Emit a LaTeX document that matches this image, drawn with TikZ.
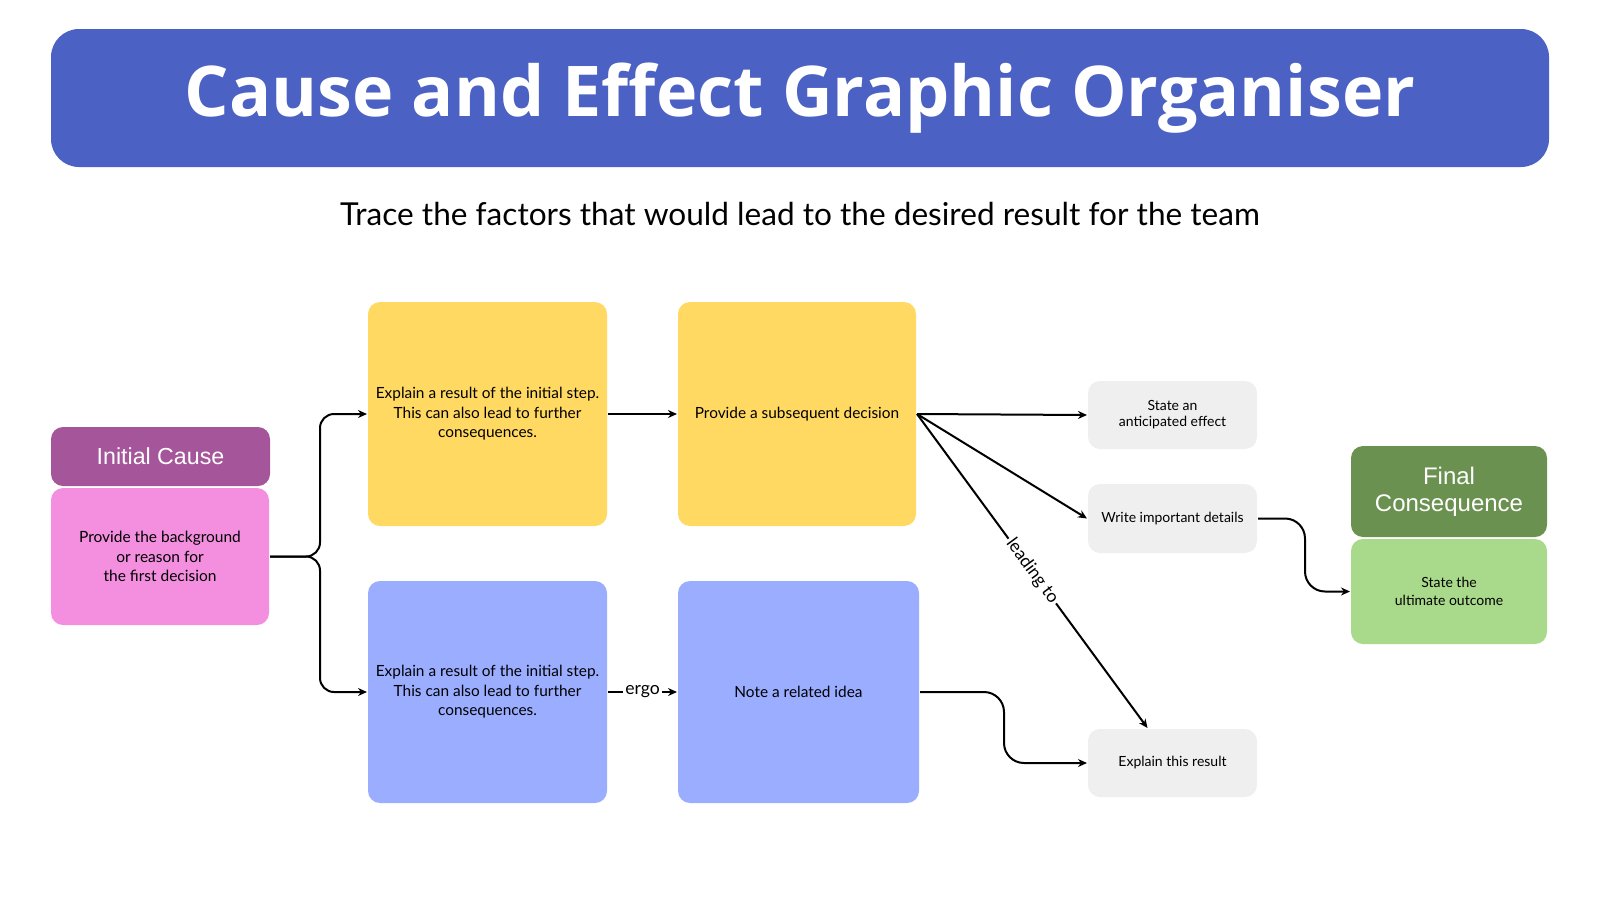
\documentclass[tikz,border=0pt]{standalone}
\usepackage{fontspec}
\setmainfont{Lato}
\newfontfamily\titlefont{Open Sans}
\newfontfamily\headfont{Liberation Sans}
\usetikzlibrary{arrows.meta}

\definecolor{banner}{HTML}{4B61C4}
\definecolor{causedark}{HTML}{A5559A}
\definecolor{causelight}{HTML}{F48FE0}
\definecolor{stepyellow}{HTML}{FFD962}
\definecolor{stepblue}{HTML}{9AADFF}
\definecolor{effectgrey}{HTML}{EFEFEF}
\definecolor{finaldark}{HTML}{6B9150}
\definecolor{finallight}{HTML}{A9D98A}

\begin{document}
\begin{tikzpicture}[x=0.5pt,y=-0.5pt,>={Stealth[length=4.5pt,width=4pt]},line width=1pt,
    main box/.style={rounded corners=6pt,inner sep=0pt,align=center,
      minimum width=119.5pt,minimum height=112pt,font=\fontsize{7.7}{9.7}\selectfont},
    small box/.style={rounded corners=6pt,inner sep=0pt,align=center,fill=effectgrey,
      minimum width=84.5pt,minimum height=34pt,font=\fontsize{7}{8}\selectfont},
    head box/.style={rounded corners=6pt,inner sep=0pt,align=center,text=white,
      font=\headfont\fontsize{11.6}{13}\selectfont},
    body box/.style={rounded corners=6pt,inner sep=0pt,align=center,
      font=\fontsize{7.75}{9.7}\selectfont}]
  \useasboundingbox (0,0) rectangle (1600,900);

  % title and subtitle
  \node[fill=banner,rounded corners=14pt,minimum width=749pt,minimum height=69pt,
    text=white,font=\titlefont\bfseries\fontsize{35}{40}\selectfont] (title) at (800,98)
    {Cause and Effect Graphic Organiser};
  \node[font=\fontsize{15.8}{18}\selectfont] (subtitle) at (800,214)
    {Trace the factors that would lead to the desired result for the team};

  % initial cause
  \node[head box,fill=causedark,minimum width=109.5pt,minimum height=29.5pt] (causehead) at (160.5,456.5) {Initial Cause};
  \node[body box,fill=causelight,minimum width=109pt,minimum height=68.5pt] (causebody) at (160,556.5)
    {Provide the background\\or reason for\\the first decision};

  % middle steps
  \node[main box,fill=stepyellow] (result1) at (487.5,414)
    {Explain a result of the initial step.\\This can also lead to further\\consequences.};
  \node[main box,fill=stepyellow,minimum width=119pt] (decision) at (797,414) {Provide a subsequent decision};
  \node[main box,fill=stepblue,minimum height=111pt] (result2) at (487.5,692)
    {Explain a result of the initial step.\\This can also lead to further\\consequences.};
  \node[main box,fill=stepblue,minimum width=120.5pt,minimum height=111pt] (idea) at (798.5,692) {Note a related idea};

  % effects
  \node[small box] (effect) at (1172.5,415) {State an\\anticipated effect};
  \node[small box,minimum height=34.5pt] (details) at (1172.5,518.5) {Write important details};
  \node[small box] (result3) at (1172.5,763) {Explain this result};
  \coordinate (result3in) at ([xshift=-12.5pt]result3.north);

  % final consequence
  \node[head box,fill=finaldark,minimum width=98pt,minimum height=45.5pt,
    font=\headfont\fontsize{12}{13.5}\selectfont] (finalhead) at (1449,491.5) {Final\\Consequence};
  \node[body box,fill=finallight,minimum width=98pt,minimum height=52.5pt,
    font=\fontsize{7}{8.7}\selectfont] (finalbody) at (1449,591.5) {State the\\ultimate outcome};

  % connectors
  \draw[->,rounded corners=7pt] (causebody.east) -- ++(25pt,0) |- (result1.west);
  \draw[->,rounded corners=7pt] (causebody.east) -- ++(25pt,0) |- (result2.west);
  \path[->,every node/.style={fill=white,inner sep=1pt,font=\fontsize{8.8}{10}\selectfont}]
    (result1) edge (decision)
    (result2) edge node {ergo} (idea)
    (decision.east) edge (effect.west)
    (decision.east) edge (details.west)
    (decision.east) edge node[sloped] {leading to} (result3in);
  \draw[->,rounded corners=10pt] (idea.east) -- ++(42pt,0) |- (result3.west);
  \draw[->,rounded corners=10pt] (details.east) -- ++(23.5pt,0) |- (finalbody.west);
\end{tikzpicture}
\end{document}
